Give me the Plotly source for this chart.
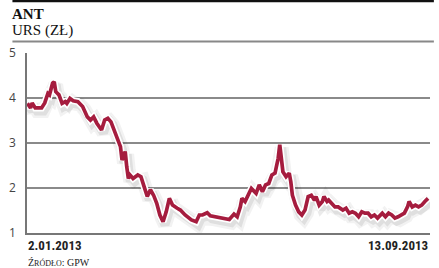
import plotly.graph_objects as go
import pandas as pd

# calendar-day offsets from 2 Jan 2013 and share price (PLN)
days = [0, 2, 3, 5, 9, 11, 13, 14, 16, 17, 18, 20, 22, 24, 25, 27, 29, 32, 35, 38,
        40, 42, 44, 47, 49, 51, 53, 55, 57, 59, 60, 62, 63, 64, 65, 67, 70, 72, 74, 76,
        78, 80, 82, 84, 86, 88, 90, 92, 95, 97, 100, 104, 107, 109, 111, 114, 116, 119, 122, 125,
        128, 131, 133, 135, 136, 138, 140, 142, 145, 147, 149, 151, 153, 155, 157, 158, 159, 160, 162, 164,
        166, 167, 168, 170, 172, 174, 176, 178, 180, 182, 183, 185, 187, 188, 190, 191, 193, 195, 197, 200,
        202, 204, 206, 208, 210, 212, 214, 216, 218, 220, 222, 225, 227, 229, 231, 233, 235, 237, 239, 241,
        242, 244, 246, 248, 250, 252, 254]
prices = [3.88, 3.78, 3.89, 3.78, 3.78, 3.89, 4.10, 4.07, 4.33, 4.36, 4.14, 4.07, 3.88, 3.92, 3.88, 3.99, 3.94, 3.92, 3.81, 3.58,
          3.51, 3.58, 3.44, 3.29, 3.51, 3.55, 3.47, 3.29, 3.10, 2.92, 2.62, 2.81, 2.47, 2.21, 2.29, 2.21, 2.29, 2.25, 2.03, 1.81,
          1.96, 1.84, 1.66, 1.40, 1.25, 1.47, 1.77, 1.62, 1.55, 1.51, 1.40, 1.29, 1.25, 1.40, 1.40, 1.45, 1.38, 1.36, 1.33, 1.30,
          1.30, 1.42, 1.36, 1.58, 1.77, 1.70, 1.84, 1.99, 1.88, 2.07, 1.92, 2.07, 2.10, 2.29, 2.33, 2.47, 2.66, 2.96, 2.36, 2.25,
          2.33, 2.14, 1.84, 1.62, 1.47, 1.40, 1.51, 1.81, 1.84, 1.73, 1.81, 1.62, 1.70, 1.81, 1.70, 1.73, 1.66, 1.58, 1.58, 1.51,
          1.55, 1.44, 1.47, 1.44, 1.36, 1.47, 1.44, 1.44, 1.36, 1.40, 1.33, 1.44, 1.36, 1.44, 1.40, 1.33, 1.36, 1.40, 1.44, 1.58,
          1.70, 1.58, 1.62, 1.58, 1.62, 1.70, 1.77]
y_ticks = [1, 2, 3, 4, 5]
start_label = "2.01.2013"
end_label = "13.09.2013"
title_text = "ANT"
subtitle_text = "URS (ZŁ)"

base = pd.Timestamp("2013-01-02")
dates = [base + pd.Timedelta(days=d) for d in days]

RED = "#a51c3e"
x_lo = base - pd.Timedelta(hours=6)
x_hi = base + pd.Timedelta(days=255, hours=6)
span_days = (x_hi - x_lo) / pd.Timedelta(days=1)
plot_w, plot_h = 415, 180
dx = pd.Timedelta(days=span_days * 2 / plot_w)
dy = 4 * 3 / plot_h

fig = go.Figure()
# soft shadow (base subplot, shifted range)
for w, c in [(14, "rgba(0,0,0,0.05)"), (9, "rgba(0,0,0,0.08)")]:
    fig.add_trace(go.Scatter(x=dates, y=prices, mode="lines", line=dict(color=c, width=w),
                             xaxis="x", yaxis="y", hoverinfo="skip", showlegend=False))
# white halo + red line
fig.add_trace(go.Scatter(x=dates, y=prices, mode="lines", line=dict(color="white", width=7),
                         xaxis="x2", yaxis="y2", hoverinfo="skip", showlegend=False))
fig.add_trace(go.Scatter(x=dates, y=prices, mode="lines", line=dict(color=RED, width=3.7),
                         xaxis="x2", yaxis="y2", showlegend=False))

fig.update_layout(
    width=439, height=268,
    margin=dict(l=15, r=9, t=53, b=35),
    paper_bgcolor="white", plot_bgcolor="white",
    xaxis=dict(range=[x_lo - dx, x_hi - dx], visible=False, type="date"),
    yaxis=dict(range=[1 + dy, 5 + dy], visible=False),
    xaxis2=dict(range=[x_lo, x_hi], type="date", overlaying="x", anchor="y2",
                showgrid=False, showticklabels=False, zeroline=False,
                showline=True, linecolor="#777", linewidth=2),
    yaxis2=dict(range=[1, 5], overlaying="y", anchor="x2", side="left",
                tickvals=y_ticks, ticktext=[str(v) for v in y_ticks],
                showgrid=True, gridcolor="#8a8a8a", gridwidth=1.5,
                showline=True, linecolor="#777", linewidth=1.5, zeroline=False,
                ticks="", ticklabelstandoff=7,
                tickfont=dict(family="Open Sans", size=12, color="#444")),
    font=dict(family="Liberation Serif"),
    shapes=[
        dict(type="line", xref="paper", yref="paper", x0=-15/415, x1=419/415,
             y0=1 + 52/180, y1=1 + 52/180, line=dict(color="#111", width=2.5)),
        dict(type="line", xref="paper", yref="paper", x0=-15/415, x1=419/415,
             y0=1 + 11.5/180, y1=1 + 11.5/180, line=dict(color="#888", width=2)),
    ],
    annotations=[
        dict(text=f"<b>{title_text}</b>", x=-17/415, y=1 + 39/180, xref="paper", yref="paper",
             xanchor="left", yanchor="middle", showarrow=False,
             font=dict(family="Liberation Serif", size=15, color="#111")),
        dict(text=subtitle_text, x=-17/415, y=1 + 23/180, xref="paper", yref="paper",
             xanchor="left", yanchor="middle", showarrow=False,
             font=dict(family="Liberation Serif", size=15, color="#111")),
        dict(text=f"<b>{start_label}</b>", x=-1/415, y=-12/180, xref="paper", yref="paper",
             xanchor="left", yanchor="middle", showarrow=False,
             font=dict(family="Liberation Sans Narrow, Roboto Condensed", size=13, color="#222")),
        dict(text=f"<b>{end_label}</b>", x=1, y=-12/180, xref="paper", yref="paper",
             xanchor="right", yanchor="middle", showarrow=False,
             font=dict(family="Liberation Sans Narrow, Roboto Condensed", size=13, color="#222")),
        dict(text="Ź<span style='font-size:8px'>RÓDŁO</span>: GPW", x=-1/415, y=-29/180,
             xref="paper", yref="paper", xanchor="left", yanchor="middle", showarrow=False,
             font=dict(family="Liberation Serif", size=10, color="#222")),
    ],
)
fig.write_html("out.html")
